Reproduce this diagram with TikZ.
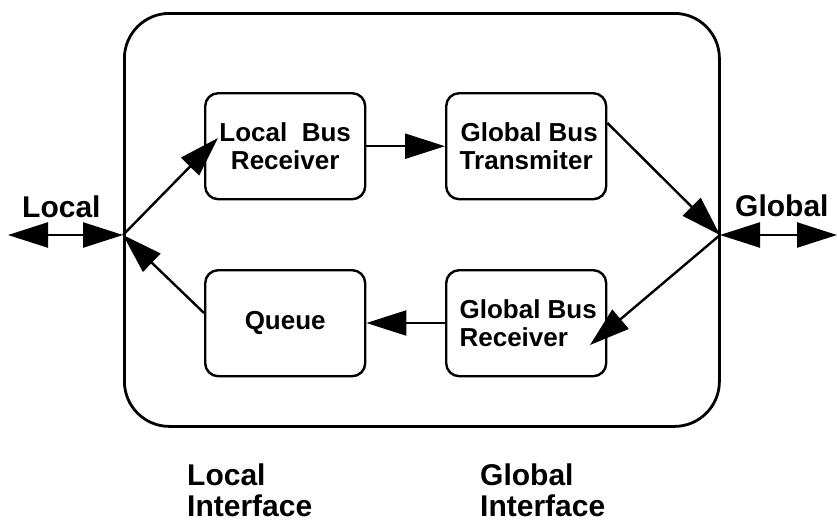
\documentclass[tikz,border=0pt]{standalone}
\usepackage{fontspec}
\setmainfont{Liberation Sans}
\usetikzlibrary{arrows.meta}
\begin{document}
\begin{tikzpicture}[x=1pt,y=-1pt,
  blk/.style={draw,line width=2.4pt,rounded corners=13pt,minimum width=160pt,minimum height=106pt,
    anchor=north west,align=center,font=\fontsize{26}{28}\selectfont\bfseries},
  lbl/.style={font=\fontsize{30}{31}\selectfont\bfseries,align=left,inner sep=0pt},
  conn/.style={line width=2.4pt,-{Triangle[length=40pt,width=25pt]}},
  bidir/.style={line width=2.4pt,{Triangle[length=40pt,width=25pt]}-{Triangle[length=40pt,width=25pt]}}]
\useasboundingbox (0,0) rectangle (837,525);
% enclosing interface unit
\node[draw,line width=2.8pt,rounded corners=45pt,minimum width=595pt,minimum height=413pt,anchor=north west] (unit) at (123,12) {};
\coordinate (lj) at (123,235);
\coordinate (rj) at (720,235);
\coordinate (lext) at (8,235);
\coordinate (rext) at (837,235);
% functional blocks
\node[blk] (lbr) at (204,92) {Local\ \ Bus\\Receiver};
\node[blk] (gbt) at (445,92) {\hspace*{6pt}Global Bus\\Transmiter};
\node[blk] (que) at (204,269) {Queue};
\node[blk,align=left] (gbr) at (445,269) {\hspace*{4pt}Global Bus\\\hspace*{4pt}Receiver};
\coordinate (lbrin) at (218,138);
\coordinate (gbrin) at (590,345);
% external ports
\draw[bidir] (lext) -- (lj);
\draw[bidir] (rj) -- (rext);
\node[lbl,anchor=base west] (loc) at (22,217) {Local};
\node[lbl,anchor=base west] (glo) at (735,216) {Global};
% data paths
\draw[conn] (lj) -- (lbrin);
\draw[conn] (lbr.east) -- (gbt.west);
\draw[conn] (gbt.north east) ++(0,31) coordinate (gbtout) (gbtout) -- (rj);
\draw[conn] (rj) -- (gbrin);
\draw[conn] (gbr.west |- 0,323) coordinate (gbrout) (gbrout) -- (que.east |- 0,323);
\draw[conn] (que.west |- 0,313) coordinate (qout) (qout) -- (lj);
% captions
\node[lbl,anchor=north west] (lcap) at (187,464) {Local\\Interface};
\node[lbl,anchor=north west] (gcap) at (480,464) {Global\\Interface};
\end{tikzpicture}
\end{document}
